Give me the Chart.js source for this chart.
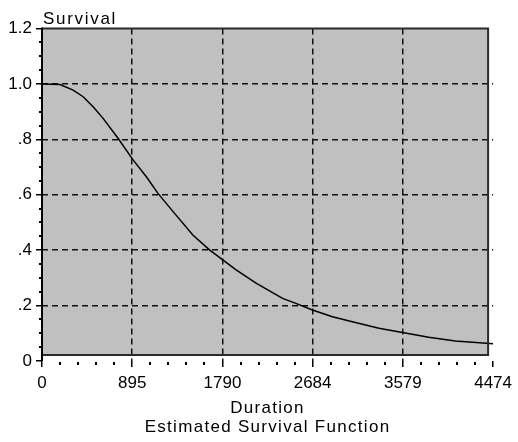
<!DOCTYPE html>
<html>
<head>
<meta charset="utf-8">
<script src="https://cdn.jsdelivr.net/npm/chart.js@4"></script>
<style>
  html, body { margin: 0; padding: 0; background: #fff; }
  canvas { display: block; }
</style>
</head>
<body>
<canvas id="survChart" width="518" height="442"></canvas>
<script>
'use strict';

// values
const durations = [0, 178, 309, 408, 507, 606, 754, 903, 1035, 1150, 1315, 1496, 1661, 1793,
  1925, 2123, 2386, 2518, 2682, 2880, 3078, 3342, 3589, 3836, 4100, 4474];
const survival = [1.0, 0.998, 0.978, 0.954, 0.918, 0.876, 0.804, 0.726, 0.665, 0.605, 0.533,
  0.455, 0.401, 0.365, 0.329, 0.281, 0.226, 0.208, 0.184, 0.160, 0.142, 0.118, 0.102, 0.086,
  0.072, 0.062];
const xTicks = [0, 895, 1790, 2684, 3579, 4474];
const yTicks = [0, 0.2, 0.4, 0.6, 0.8, 1.0, 1.2];
const yTickLabels = ['0', '.2', '.4', '.6', '.8', '1.0', '1.2'];
const yTitle = 'Survival';
const xTitle = ['Duration', 'Estimated Survival Function'];

const FONT = "'Liberation Sans', Arial, sans-serif";
const FRAME_INSET = { right: 5, bottom: 6 };

const isEdge = (v, list) => v === list[0] || v === list[list.length - 1];

// gray plot panel, frame, minor ticks and the axis captions
const framePlugin = {
  id: 'frame',
  beforeDraw(chart) {
    const { ctx, chartArea: a } = chart;
    ctx.save();
    ctx.fillStyle = '#c0c0c0';
    ctx.fillRect(a.left, a.top, a.right - FRAME_INSET.right - a.left, a.bottom - FRAME_INSET.bottom - a.top);
    ctx.restore();
  },
  afterDatasetsDraw(chart) {
    const { ctx, chartArea: a, scales } = chart;
    const r = a.right - FRAME_INSET.right;
    const b = a.bottom - FRAME_INSET.bottom;
    ctx.save();
    ctx.strokeStyle = '#2a2a2a';
    ctx.lineWidth = 2;
    ctx.beginPath();
    ctx.moveTo(a.left, a.top); ctx.lineTo(r, a.top);
    ctx.lineTo(r, b); ctx.lineTo(a.left, b);
    ctx.stroke();
    ctx.strokeStyle = '#000';
    ctx.beginPath();
    ctx.moveTo(a.left, a.top - 1); ctx.lineTo(a.left, a.bottom);
    ctx.stroke();

    // minor ticks
    ctx.fillStyle = '#000';
    for (let i = 0; i < xTicks.length - 1; i++) {
      const step = (xTicks[i + 1] - xTicks[i]) / 5;
      for (let k = 1; k < 5; k++) {
        const px = scales.x.getPixelForValue(xTicks[i] + k * step);
        ctx.fillRect(Math.round(px) - 1, a.bottom + 1, 2, 3);
      }
    }
    for (let i = 0; i < yTicks.length - 1; i++) {
      const step = (yTicks[i + 1] - yTicks[i]) / 4;
      for (let k = 1; k < 4; k++) {
        const py = scales.y.getPixelForValue(yTicks[i] + k * step);
        ctx.fillRect(a.left - 3, Math.round(py) - 1, 3, 2);
      }
    }

    // captions: the original bitmap font is loosely spaced
    ctx.font = '17px ' + FONT;
    ctx.fillStyle = '#000';
    ctx.textBaseline = 'middle';
    ctx.letterSpacing = '1.7px';
    ctx.textAlign = 'left';
    ctx.fillText(yTitle, a.left + 1, 19);
    ctx.letterSpacing = '1.3px';
    ctx.textAlign = 'center';
    const cx = (a.left + a.right) / 2;
    ctx.fillText(xTitle[0], cx, 408);
    ctx.fillText(xTitle[1], cx, 427);
    ctx.restore();
  }
};

new Chart(document.getElementById('survChart'), {
  type: 'line',
  data: {
    datasets: [{
      data: durations.map((d, i) => ({ x: d, y: survival[i] })),
      borderColor: '#000',
      borderWidth: 1.5,
      pointRadius: 0,
      tension: 0,
      fill: false
    }]
  },
  options: {
    responsive: false,
    animation: false,
    devicePixelRatio: 1,
    layout: { padding: { left: 0, top: 28.6, right: 23.5, bottom: 0 } },
    plugins: { legend: { display: false }, tooltip: { enabled: false } },
    scales: {
      x: {
        type: 'linear',
        min: xTicks[0],
        max: xTicks[xTicks.length - 1],
        afterBuildTicks: s => { s.ticks = xTicks.map(v => ({ value: v })); },
        afterFit: s => { s.height = 81; },
        grid: {
          color: c => (c.tick && isEdge(c.tick.value, xTicks)) ? 'rgba(0,0,0,0)' : '#111',
          lineWidth: 1.5,
          tickColor: '#000',
          tickWidth: 1.5,
          tickLength: 6
        },
        border: { display: false, dash: [6, 4] },
        ticks: {
          autoSkip: false,
          maxRotation: 0,
          padding: 6,
          color: '#000',
          font: { family: FONT, size: 17 },
          callback: v => String(v)
        }
      },
      y: {
        type: 'linear',
        min: yTicks[0],
        max: yTicks[yTicks.length - 1],
        afterBuildTicks: s => { s.ticks = yTicks.map(v => ({ value: v })); },
        afterFit: s => { s.width = 42; },
        grid: {
          color: c => (c.tick && isEdge(c.tick.value, yTicks)) ? 'rgba(0,0,0,0)' : '#111',
          lineWidth: 1.5,
          tickColor: '#000',
          tickWidth: 1.5,
          tickLength: 6
        },
        border: { display: false, dash: [6, 4] },
        ticks: {
          autoSkip: false,
          padding: 4,
          color: '#000',
          font: { family: FONT, size: 17 },
          callback: (v, i) => yTickLabels[i]
        }
      }
    }
  },
  plugins: [framePlugin]
});
</script>
</body>
</html>
